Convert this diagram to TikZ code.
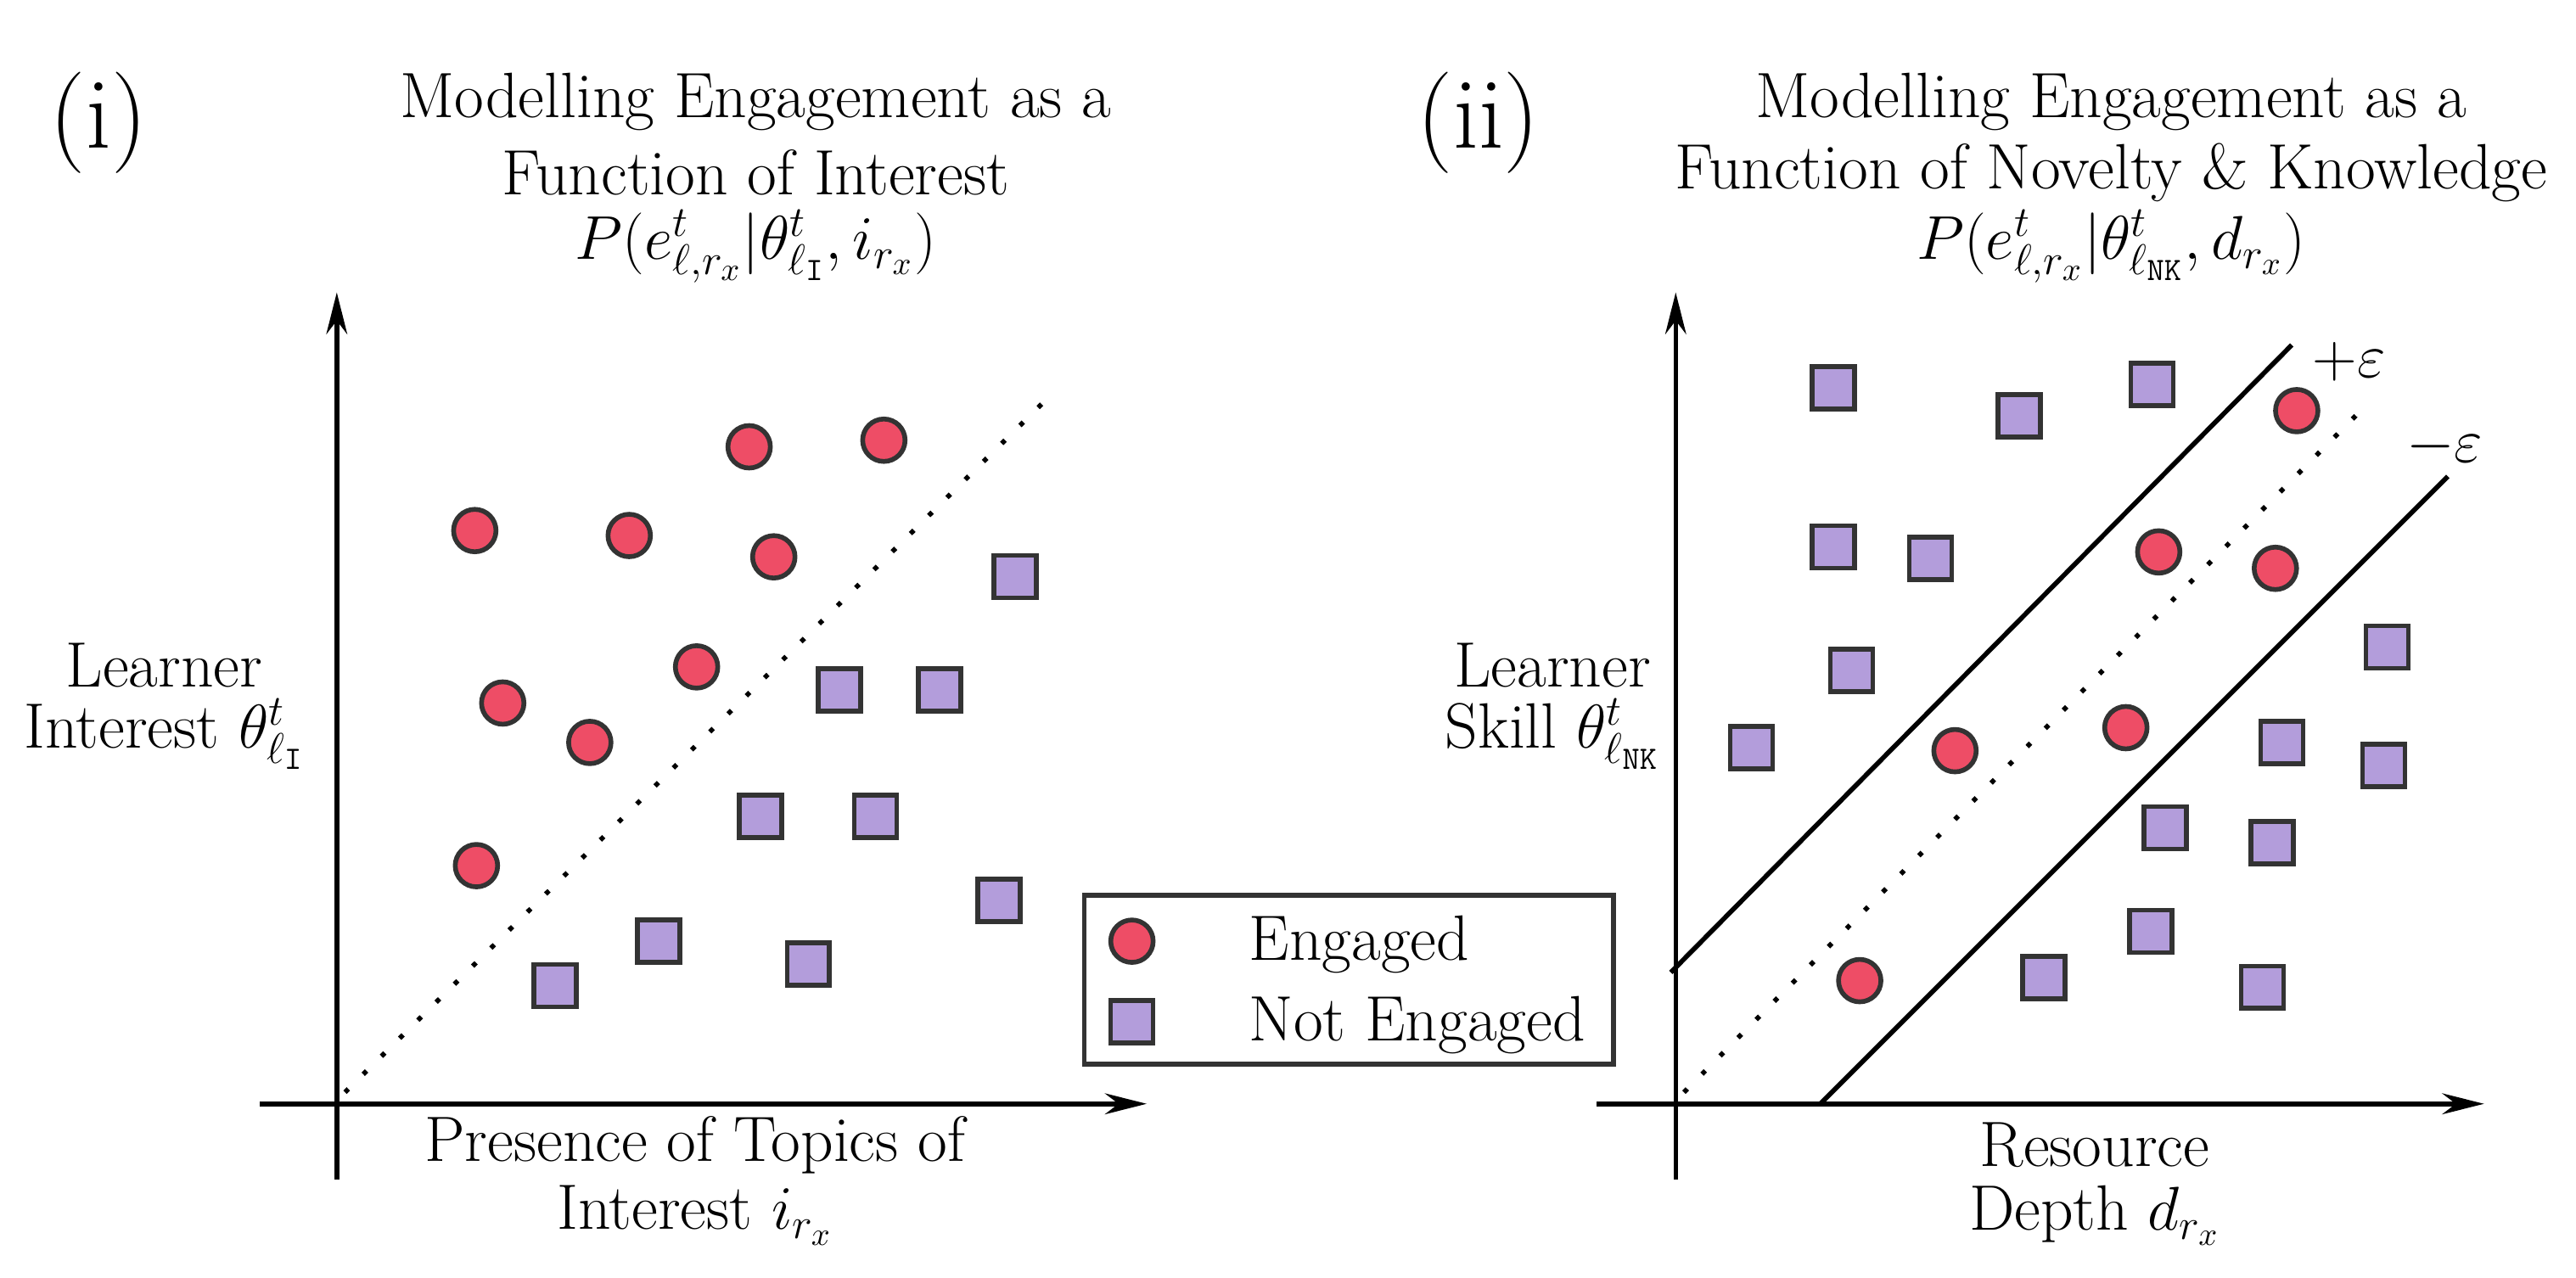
\documentclass[tikz,border=0pt]{standalone}
\usetikzlibrary{arrows.meta}
\definecolor{eng}{HTML}{EE4D66}
\definecolor{neng}{HTML}{B39DDB}
\definecolor{edge}{HTML}{333333}
\begin{document}
\begin{tikzpicture}[x=0.019356cm,y=-0.019356cm,
  every node/.style={font=\fontsize{21.5}{25}\selectfont, inner sep=0pt},
  ax/.style={line width=1.6pt,-{Stealth[length=14pt,width=7pt]}},
  c/.style={circle,fill=eng,draw=edge,line width=1.6pt,minimum size=0.5cm},
  s/.style={rectangle,fill=neng,draw=edge,line width=1.6pt,minimum size=0.5cm},
  dot/.style={line width=1.6pt,dash pattern=on 1.6pt off 7pt},
  sol/.style={line width=1.6pt}]
\useasboundingbox (0,0) rectangle (1568,778);
% panel i
\node (li) at (60,75) {\fontsize{34}{38}\selectfont (i)};
\node (ti1) at (460,62) {Modelling Engagement as a};
\node (ti2) at (460,105) {Function of Interest};
\node (ti3) at (460,150) {$P(e^t_{\ell,r_x}|\theta^t_{\ell_{\mathtt{I}}},i_{r_x})$};
\coordinate (oy1) at (205,718); \coordinate (ty1) at (205,178);
\coordinate (ox1) at (158,672); \coordinate (tx1) at (698,672);
\draw[ax] (oy1) -- (ty1);
\draw[ax] (ox1) -- (tx1);
\coordinate (d1a) at (210,665); \coordinate (d1b) at (635,245);
\draw[dot] (d1a) -- (d1b);
\node (yl1a) at (100,405) {Learner};
\node (yl1b) at (100,447) {Interest $\theta^t_{\ell_{\mathtt{I}}}$};
\node (xl1a) at (423,697) {Presence of Topics of};
\node (xl1b) at (423,740) {Interest $i_{r_x}$};
\foreach \p [count=\i] in {(289,323),(383,326),(456,272),(538,268),(471,339),(424,406),(306,428),(359,452),(290,527)}
  \node[c] (ca\i) at \p {};
\foreach \p [count=\i] in {(618,351),(511,420),(572,420),(463,497),(533,497),(608,548),(401,573),(492,587),(338,600)}
  \node[s] (sa\i) at \p {};
% legend
\draw[line width=1.6pt,draw=edge] (660,545) rectangle (982,648);
\node[c] (lc) at (689,573) {};
\node[s] (ls) at (689,622) {};
\node[anchor=west] (lt1) at (760,575) {Engaged};
\node[anchor=west] (lt2) at (760,624) {Not Engaged};
% panel ii
\node (lii) at (900,75) {\fontsize{34}{38}\selectfont (ii)};
\node (tj1) at (1285,62) {Modelling Engagement as a};
\node (tj2) at (1285,105) {Function of Novelty \& Knowledge};
\node (tj3) at (1285,150) {$P(e^t_{\ell,r_x}|\theta^t_{\ell_{\mathtt{NK}}},d_{r_x})$};
\coordinate (oy2) at (1020,718); \coordinate (ty2) at (1020,178);
\coordinate (ox2) at (972,672); \coordinate (tx2) at (1512,672);
\draw[ax] (oy2) -- (ty2);
\draw[ax] (ox2) -- (tx2);
\coordinate (u1) at (1017,592); \coordinate (u2) at (1395,210);
\coordinate (m1) at (1025,665); \coordinate (m2) at (1435,252);
\coordinate (l1) at (1108,672); \coordinate (l2) at (1490,290);
\draw[sol] (u1) -- (u2);
\draw[dot] (m1) -- (m2);
\draw[sol] (l1) -- (l2);
\node (pe) at (1430,220) {$+\varepsilon$};
\node (me) at (1488,272) {$-\varepsilon$};
\node (yl2a) at (945,405) {Learner};
\node (yl2b) at (945,447) {Skill $\theta^t_{\ell_{\mathtt{NK}}}$};
\node (xl2a) at (1275,697) {Resource};
\node (xl2b) at (1275,740) {Depth $d_{r_x}$};
\foreach \p [count=\i] in {(1398,250),(1314,336),(1385,346),(1190,457),(1294,443),(1132,597)}
  \node[c] (cb\i) at \p {};
\foreach \p [count=\i] in {(1116,236),(1229,253),(1310,234),(1116,333),(1175,340),(1127,408),(1453,394),(1066,455),(1389,452),(1451,466),(1318,504),(1383,513),(1309,567),(1244,595),(1377,601)}
  \node[s] (sb\i) at \p {};
\end{tikzpicture}
\end{document}
